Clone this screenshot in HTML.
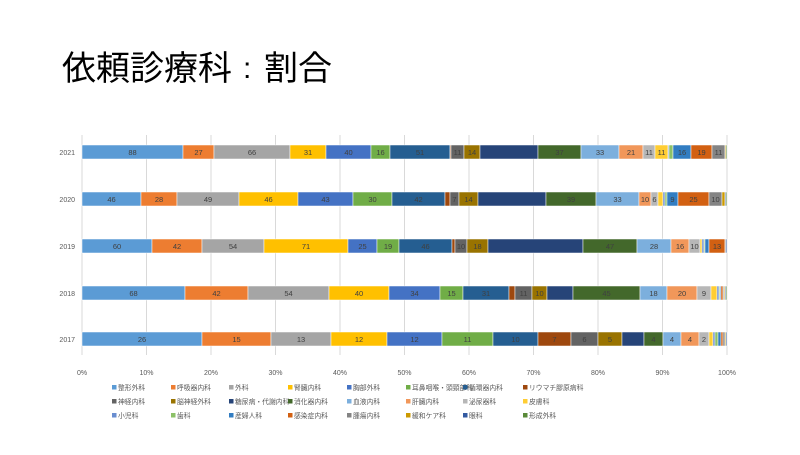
<!DOCTYPE html>
<html><head><meta charset="utf-8"><style>
body{margin:0;background:#fff;width:800px;height:450px;overflow:hidden;font-family:"Liberation Sans","Noto Sans CJK JP",sans-serif}
</style></head><body>
<svg id="s" width="800" height="450" xmlns="http://www.w3.org/2000/svg" font-family="Liberation Sans, Noto Sans CJK JP, sans-serif">
<text x="62" y="80" font-size="34" fill="#000">依頼診療科</text>
<text x="243" y="78" font-size="30" fill="#000">:</text>
<text x="264" y="80" font-size="34" fill="#000">割合</text>
<g id="g"></g>
</svg>
<script>
var C=["#5B9BD5","#ED7D31","#A5A5A5","#FFC000","#4472C4","#70AD47","#255E91","#9E480E","#636363","#997300","#264478","#43682B","#7CAFDD","#F1975A","#B7B7B7","#FFCD33","#698ED0","#8CC168","#327DC2","#D26012","#848484","#CC9A00","#335AA1","#5A8A39"];
var N=["整形外科","呼吸器内科","外科","腎臓内科","胸部外科","耳鼻咽喉・頭頸部科","循環器内科","リウマチ膠原病科","神経内科","脳神経外科","糖尿病・代謝内科","消化器内科","血液内科","肝臓内科","泌尿器科","皮膚科","小児科","歯科","産婦人科","感染症内科","腫瘍内科","緩和ケア科","眼科","形成外科"];
var rows=[
["2021",145,[183,214,290,326,371,390,450,451,464,480,538,581,619,643,655,668,669,673,691,712,725,726,726,727],["88","27","66","31","40","16","51","","11","14","","37","33","21","11","11","","3","16","19","11","","",""]],
["2020",192,[141,177,239,298,353,392,445,450,459,478,546,596,639,651,658,663,665,667,678,709,722,725,726,727],["46","28","49","46","43","30","42","","7","14","","39","33","10","6","4","","","9","25","10","2","",""]],
["2019",239,[152,202,264,348,377,399,452,455,467,488,583,637,671,689,700,702,704,705,709,725,726,726,727,727],["60","42","54","71","25","19","46","2","10","18","","47","28","16","10","","","","","13","","","",""]],
["2018",286,[185,248,329,389,440,463,509,515,532,547,573,640,667,697,711,717,719,720,721,723,724,725,726,727],["68","42","54","40","34","15","31","","11","10","","45","18","20","9","4","","","","","","","",""]],
["2017",332,[202,271,331,387,442,493,538,571,598,622,644,663,681,699,709,713,715,718,721,723,725,726,727,727],["26","15","13","12","12","11","10","7","6","5","","4","4","4","2","1","1","1","1","","","","",""]]];
var h='';
for(var i=0;i<=10;i++){var x=82+64.5*i;h+='<line x1="'+x+'" y1="135" x2="'+x+'" y2="355" stroke="#d9d9d9" stroke-width="1"/>';
h+='<text x="'+x+'" y="375" font-size="7" fill="#595959" text-anchor="middle">'+(i*10)+'%</text>';}
rows.forEach(function(r){var px=82;h+='<text x="75" y="'+(r[1]+10)+'" font-size="7" fill="#595959" text-anchor="end">'+r[0]+'</text>';
r[2].forEach(function(e,j){var w=e-px;if(w>0){h+='<rect x="'+px+'" y="'+r[1]+'" width="'+w+'" height="14" fill="'+C[j]+'" stroke="#fff" stroke-width="0.5"/>';
if(r[3][j]&&w>6)h+='<text x="'+(px+w/2)+'" y="'+(r[1]+10)+'" font-size="7.5" fill="#404040" text-anchor="middle">'+r[3][j]+'</text>';}px=e;});});
var cx=[112,171,229,288,347,406,463,523];
N.forEach(function(n,k){var x=cx[k%8],y=389+14*Math.floor(k/8);
h+='<rect x="'+x+'" y="'+(y-4)+'" width="4.5" height="4.5" fill="'+C[k]+'"/><text x="'+(x+6)+'" y="'+(y+1)+'" font-size="6.8" fill="#595959">'+n+'</text>';});
document.getElementById('g').innerHTML=h;
</script>
</body></html>
